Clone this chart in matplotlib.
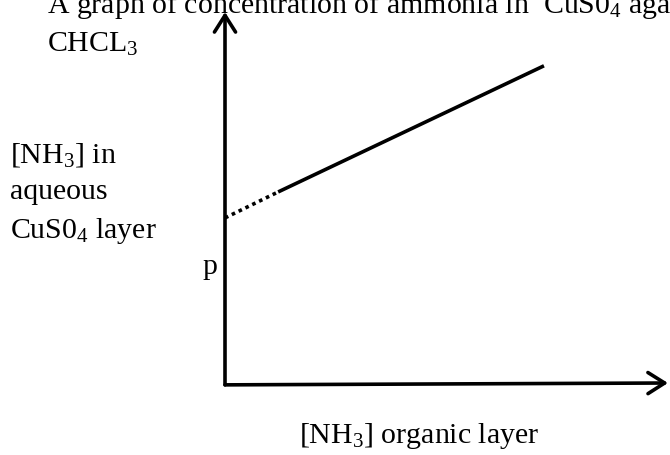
import matplotlib
matplotlib.use("Agg")
import matplotlib.pyplot as plt
from matplotlib.patches import FancyArrowPatch

plt.rcParams["font.family"] = ["Liberation Serif", "DejaVu Serif"]
plt.rcParams["mathtext.fontset"] = "custom"
plt.rcParams["mathtext.rm"] = "Liberation Serif"
plt.rcParams["mathtext.it"] = "Liberation Serif:italic"

# sketch of [NH3] aqueous vs [NH3] organic (arbitrary units)
org_extrap = [0.0, 1.2]
aq_extrap = [4.45, 5.15]
org_meas = [1.2, 7.2]
aq_meas = [5.15, 8.55]
p_value = 4.45

TITLE = ["A graph of concentration of ammonia in  CuS0$_\\mathrm{4}$ against", "CHCL$_\\mathrm{3}$"]
XLABEL = "[NH$_\\mathrm{3}$] organic layer"
YLABEL = ["[NH$_\\mathrm{3}$] in", "aqueous", "CuS0$_\\mathrm{4}$ layer"]

W, H = 670, 455
fig = plt.figure(figsize=(W / 100, H / 100), dpi=100)
ax = fig.add_axes([225 / W, (H - 383) / H, (668 - 225) / W, (383 - 12) / H])
ax.set_xlim(0, 10)
ax.set_ylim(0, 10)
ax.axis("off")

# axes drawn as open-headed arrows
for end in [(10, 0), (0, 10)]:
    ax.add_patch(FancyArrowPatch((0, -0.05), end, arrowstyle="->,head_length=0.6,head_width=0.38",
                                 mutation_scale=20, lw=2.6, color="black",
                                 shrinkA=0, shrinkB=0, clip_on=False))

ax.plot(org_extrap, aq_extrap, color="black", lw=2.6, ls=(0, (1, 1.1)), clip_on=False)
ax.plot(org_meas, aq_meas, color="black", lw=2.6, solid_capstyle="butt", clip_on=False)

fs = 21.5
for txt, yb in zip(TITLE, [13, 52]):
    fig.text(47 / W, 1 - yb / H, txt, fontsize=fs, va="baseline")

for txt, yb in zip(YLABEL, [162, 199, 238]):
    fig.text(10 / W, 1 - yb / H, txt, fontsize=fs, va="baseline")

ax.annotate("p", xy=(0, p_value), xytext=(-23, -56), textcoords="offset pixels",
            fontsize=fs, va="baseline", annotation_clip=False)

fig.text(299 / W, 1 - 443 / H, XLABEL, fontsize=fs, va="baseline")

fig.savefig("out.png", dpi=100)
